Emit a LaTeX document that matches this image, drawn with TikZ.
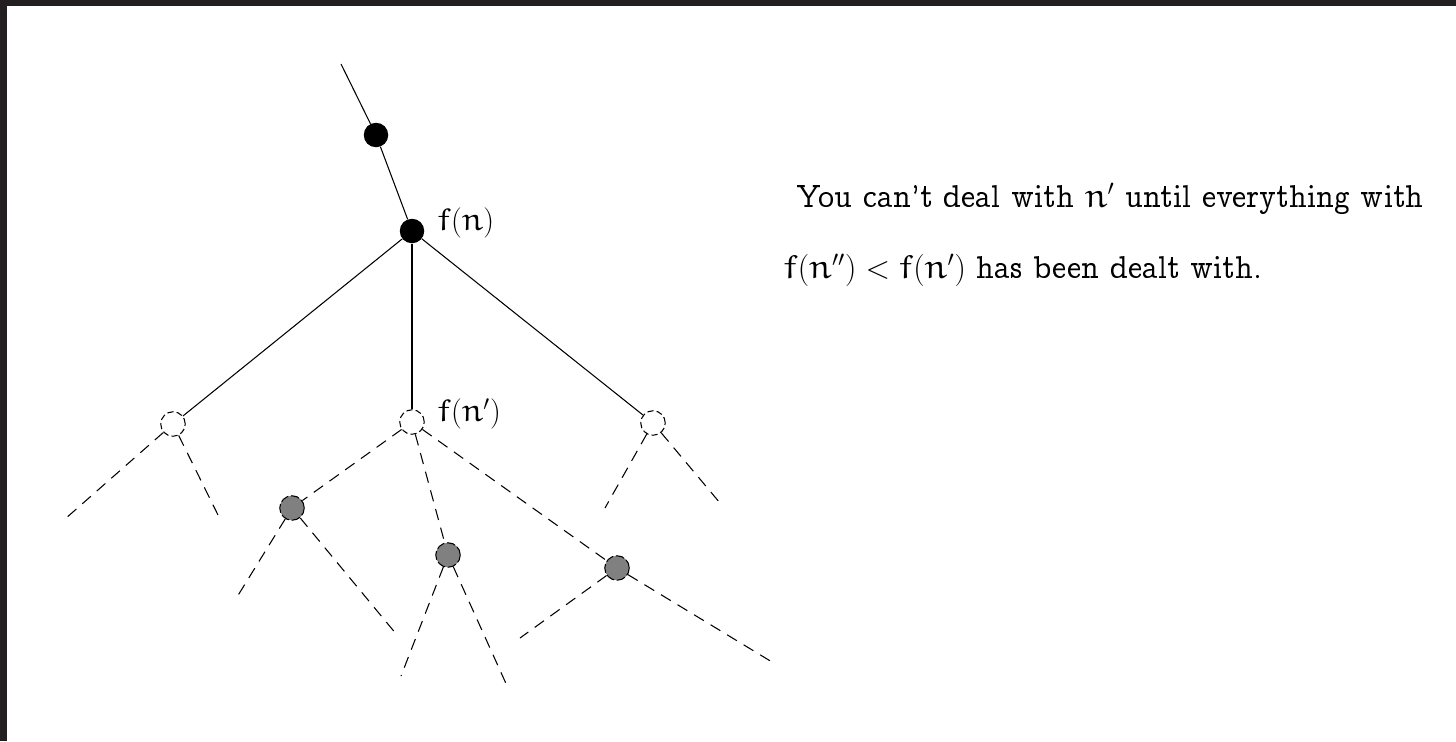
\documentclass[tikz,border=0pt]{standalone}
\usepackage{tikz}
\usetikzlibrary{positioning}
\definecolor{framedark}{HTML}{231F20}
\definecolor{nodegray}{HTML}{808080}
% letras Euler para f e n
\DeclareSymbolFont{letraseuler}{U}{eur}{m}{n}
\DeclareMathSymbol{f}{\mathalpha}{letraseuler}{`f}
\DeclareMathSymbol{n}{\mathalpha}{letraseuler}{`n}
\newcommand{\concreto}{\fontencoding{OT1}\fontfamily{ccr}\selectfont}

\begin{document}
\begin{tikzpicture}[
    x=0.02cm, y=-0.02cm,
    bolinha/.style={
    circle,
    inner sep=0pt,
    minimum size=0.49cm,
    },
    cheio/.style={bolinha, fill=black},
    aberto/.style={bolinha, draw, dash pattern=on 3.5pt off 1.8pt, fill=white, line width=0.6pt},
    cinza/.style={bolinha, draw, dash pattern=on 5pt off 1.5pt, fill=nodegray, line width=0.6pt},
    linha/.style={line width=0.6pt},
    tracejada/.style={line width=0.6pt, dash pattern=on 6.5pt off 4.5pt},
    rotulo/.style={font=\fontsize{18.5}{22}\selectfont\concreto, inner sep=0pt},
    texto/.style={font=\fontsize{18.5}{22}\selectfont\concreto, inner sep=0pt,
      scale=1.058, transform shape}
    ]

    % moldura
    \fill[framedark] (0,0) rectangle (1456,741);
    \fill[white] (7,6) rectangle (1456,741);
    \useasboundingbox (0,0) rectangle (1456,741);

    % arvore
    \coordinate (topo) at (341,64);
    \node[cheio] (pai) at (376,135) {};
    \node[cheio] (fn) at (412,231) {};

    \node[aberto] (esq) at (173,424) {};
    \node[aberto] (meio) at (412,422) {};
    \node[aberto] (dir) at (653,423) {};

    \node[cinza] (g1) at (292,508) {};
    \node[cinza] (g2) at (448,555) {};
    \node[cinza] (g3) at (617,568) {};

    \node[rotulo,anchor=west] (lfn) at (437,223) {$f(n)$};
    \node[rotulo,anchor=west] (lfn2) at (437,414) {$f(n')$};

    % folhas
    \coordinate (e1) at (65,519);
    \coordinate (e2) at (220,519);
    \coordinate (d1) at (605,508);
    \coordinate (d2) at (720,503);
    \coordinate (a1) at (237,597);
    \coordinate (a2) at (397,635);
    \coordinate (b1) at (401,676);
    \coordinate (b2) at (508,688);
    \coordinate (c1) at (520,638);
    \coordinate (c2) at (772,662);

    \draw[linha] (topo) -- (pai);
    \draw[linha] (pai) -- (fn);
    \draw[linha] (fn) -- (esq);
    \draw[linha] (fn) -- (meio);
    \draw[linha] (fn) -- (dir);

    \draw[tracejada] (esq) -- (e1);
    \draw[tracejada] (esq) -- (e2);
    \draw[tracejada] (dir) -- (d1);
    \draw[tracejada] (dir) -- (d2);
    \draw[tracejada] (meio) -- (g1);
    \draw[tracejada] (meio) -- (g2);
    \draw[tracejada] (meio) -- (g3);
    \draw[tracejada] (g1) -- (a1);
    \draw[tracejada] (g1) -- (a2);
    \draw[tracejada] (g2) -- (b1);
    \draw[tracejada] (g2) -- (b2);
    \draw[tracejada] (g3) -- (c1);
    \draw[tracejada] (g3) -- (c2);

    % texto
    \node[texto,anchor=base west] (linha1) at (797,207)
    {You can't deal with $n'$ until everything with};
    \node[texto,anchor=base west] (linha2) at (783,278)
    {$f(n'') < f(n')$ has been dealt with.};

\end{tikzpicture}
\end{document}
